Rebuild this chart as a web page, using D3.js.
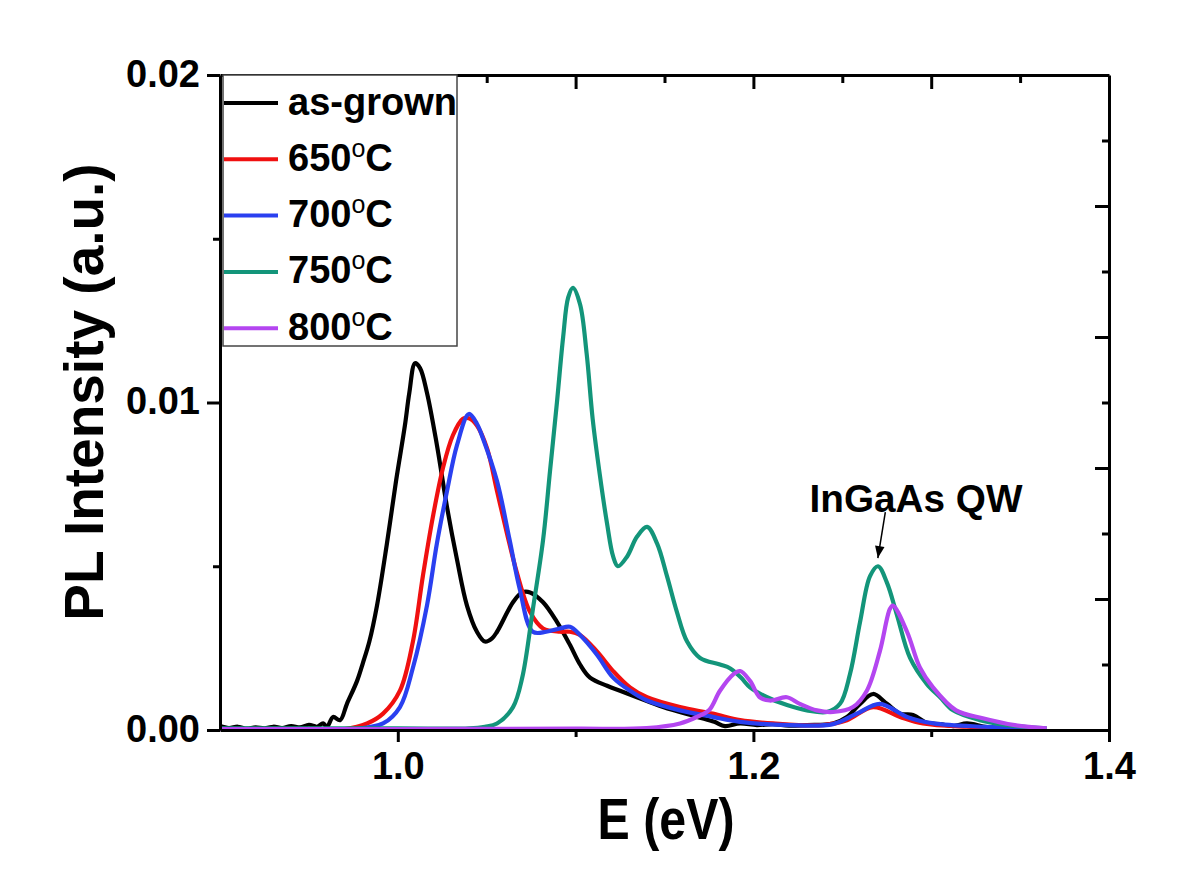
<!DOCTYPE html>
<html>
<head>
<meta charset="utf-8">
<script src="https://cdn.jsdelivr.net/npm/d3@7"></script>
<style>
html,body{margin:0;padding:0;background:#fff;}
svg{display:block;font-family:Arial,"Liberation Sans",sans-serif;}
</style>
</head>
<body>
<svg id="chart" width="1200" height="881"></svg>
<script>
// ---------- data (E in eV, PL intensity in a.u.) ----------
const seriesNames = ["as-grown", "650", "700", "750", "800"];
const seriesColors = ["#000000", "#f01010", "#2a40f0", "#13957a", "#b446f0"];

const asGrown = [
  [0.900,0.00012],[0.905,0.00006],[0.910,0.00010],[0.915,0.00004],[0.920,0.00008],[0.925,0.00005],
  [0.930,0.00010],[0.935,0.00006],[0.940,0.00012],[0.945,0.00008],[0.950,0.00016],[0.9546,0.00010],
  [0.958,0.00020],[0.9602,0.00010],[0.9636,0.00040],[0.9675,0.00030],[0.9714,0.00080],[0.9771,0.00150],
  [0.9804,0.00205],[0.9840,0.00270],[0.9883,0.00380],[0.9939,0.00570],[0.9990,0.00760],[1.0040,0.00930],
  [1.0065,0.01030],[1.0097,0.01120],[1.0125,0.01105],[1.0164,0.01030],[1.0220,0.00870],[1.0277,0.00680],
  [1.0333,0.00520],[1.0389,0.00380],[1.0445,0.00300],[1.0490,0.00270],[1.0530,0.00280],[1.0558,0.00300],
  [1.0648,0.00390],[1.0699,0.00420],[1.0744,0.00420],[1.0817,0.00390],[1.0895,0.00330],[1.0968,0.00260],
  [1.1025,0.00200],[1.1081,0.00160],[1.1177,0.00135],[1.1250,0.00120],[1.1345,0.00100],[1.1492,0.00070],
  [1.1683,0.00040],[1.1780,0.00025],[1.1840,0.00012],[1.1925,0.00020],[1.2020,0.00015],[1.2110,0.00018],
  [1.2200,0.00013],[1.2301,0.00015],[1.2448,0.00020],[1.2526,0.00040],[1.2600,0.00080],[1.2673,0.00110],
  [1.2751,0.00080],[1.2825,0.00050],[1.2898,0.00046],[1.2976,0.00022],[1.3050,0.00018],[1.3125,0.00012],
  [1.3201,0.00020],[1.3314,0.00009],[1.3450,0.00006],[1.3640,0.00005]
];

const anneal650 = [
  [0.950,0.00001],[0.970,0.00003],[0.9827,0.00020],[0.9917,0.00050],[1.0012,0.00120],[1.0085,0.00270],
  [1.0141,0.00470],[1.0197,0.00650],[1.0254,0.00800],[1.0310,0.00900],[1.0366,0.00950],[1.0400,0.00952],
  [1.0445,0.00930],[1.0502,0.00860],[1.0558,0.00730],[1.0614,0.00600],[1.0670,0.00480],[1.0744,0.00360],
  [1.0817,0.00310],[1.0912,0.00300],[1.0968,0.00300],[1.1025,0.00290],[1.1120,0.00240],[1.1211,0.00180],
  [1.1306,0.00130],[1.1402,0.00100],[1.1587,0.00070],[1.1772,0.00050],[1.1925,0.00030],[1.2110,0.00020],
  [1.2391,0.00015],[1.2526,0.00030],[1.2673,0.00070],[1.2825,0.00040],[1.2954,0.00020],[1.3200,0.00010],
  [1.3640,0.00005]
];

const anneal700 = [
  [0.950,0.00001],[0.975,0.00003],[0.9917,0.00020],[1.0012,0.00070],[1.0085,0.00190],[1.0164,0.00380],
  [1.0220,0.00570],[1.0277,0.00730],[1.0333,0.00870],[1.0400,0.00965],[1.0445,0.00935],[1.0479,0.00890],
  [1.0558,0.00760],[1.0629,0.00580],[1.0686,0.00430],[1.0759,0.00300],[1.0835,0.00300],[1.0912,0.00310],
  [1.0968,0.00315],[1.1025,0.00290],[1.1120,0.00230],[1.1211,0.00160],[1.1306,0.00120],[1.1402,0.00090],
  [1.1587,0.00060],[1.1772,0.00040],[1.1925,0.00025],[1.2200,0.00015],[1.2448,0.00018],[1.2582,0.00050],
  [1.2711,0.00080],[1.2864,0.00040],[1.3014,0.00020],[1.3300,0.00010],[1.3640,0.00005]
];

const anneal750 = [
  [0.900,0.00005],[1.000,0.00005],[1.0400,0.00005],[1.0490,0.00010],[1.0558,0.00020],[1.0648,0.00070],
  [1.0700,0.00160],[1.0760,0.00370],[1.0817,0.00580],[1.0856,0.00790],[1.0895,0.01000],[1.0930,0.01200],
  [1.0958,0.01320],[1.0985,0.01350],[1.1025,0.01300],[1.1062,0.01150],[1.1096,0.00950],[1.1136,0.00780],
  [1.1177,0.00630],[1.1211,0.00530],[1.1238,0.00500],[1.1290,0.00530],[1.1345,0.00590],[1.1402,0.00620],
  [1.1458,0.00570],[1.1514,0.00470],[1.1570,0.00360],[1.1627,0.00270],[1.1700,0.00220],[1.1812,0.00200],
  [1.1870,0.00188],[1.1930,0.00160],[1.1981,0.00130],[1.2077,0.00100],[1.2189,0.00076],[1.2301,0.00060],
  [1.2414,0.00055],[1.2487,0.00080],[1.2543,0.00170],[1.2600,0.00330],[1.2656,0.00470],[1.2701,0.00500],
  [1.2751,0.00450],[1.2808,0.00350],[1.2881,0.00220],[1.2976,0.00140],[1.3050,0.00100],[1.3123,0.00060],
  [1.3274,0.00030],[1.3426,0.00015],[1.3650,0.00005]
];

const anneal800 = [
  [0.900,0.00003],[1.000,0.00003],[1.100,0.00004],[1.1400,0.00006],[1.1587,0.00020],[1.1683,0.00040],
  [1.1750,0.00060],[1.1812,0.00120],[1.1887,0.00170],[1.1925,0.00180],[1.1981,0.00150],[1.2036,0.00100],
  [1.2092,0.00090],[1.2188,0.00100],[1.2261,0.00080],[1.2357,0.00060],[1.2448,0.00055],[1.2560,0.00070],
  [1.2638,0.00120],[1.2711,0.00240],[1.2768,0.00370],[1.2785,0.00380],[1.2864,0.00300],[1.2937,0.00190],
  [1.3010,0.00130],[1.3140,0.00060],[1.3290,0.00036],[1.3470,0.00015],[1.3650,0.00005]
];

const allSeries = [asGrown, anneal650, anneal700, anneal750, anneal800];

const yTickLabels = [0.00, 0.01, 0.02];
const yMinorTicks = [0.005, 0.015];
const xTickLabels = [1.0, 1.2, 1.4];
const xMinorTicks = [1.1, 1.3];
const topTicks = [0.95, 1.0, 1.05, 1.1, 1.15, 1.2, 1.25, 1.3, 1.35];
const rightTicks = [0.002, 0.004, 0.006, 0.008, 0.010, 0.012, 0.014, 0.016, 0.018];

// ---------- layout ----------
const svg = d3.select("#chart");
const L = 220, R = 1109, T = 75, B = 730;
const x = d3.scaleLinear().domain([0.9, 1.4]).range([L, R]);
const y = d3.scaleLinear().domain([0, 0.02]).range([B, T]);

// curves
const line = d3.line().x(d => x(d[0])).y(d => y(d[1])).curve(d3.curveCatmullRom.alpha(0.5));
const plot = svg.append("g");
allSeries.forEach((s, i) => {
  plot.append("path").datum(s)
    .attr("d", line)
    .attr("fill", "none")
    .attr("stroke", seriesColors[i])
    .attr("stroke-width", 4.2)
    .attr("stroke-linejoin", "round");
});

// axes
function styleAxis(g) {
  g.select(".domain").attr("stroke", "#000").attr("stroke-width", 3);
  g.selectAll(".tick line").attr("stroke", "#000").attr("stroke-width", 3);
  g.selectAll("text").attr("font-size", 38).attr("font-weight", "bold")
    .attr("font-family", "Arial, 'Liberation Sans', sans-serif").attr("fill", "#000");
}

// bottom
svg.append("g").attr("transform", `translate(0,${B})`)
  .call(d3.axisBottom(x).tickValues(xTickLabels).tickSize(12).tickSizeOuter(0).tickPadding(10).tickFormat(d3.format(".1f")))
  .call(styleAxis)
  .call(g => g.selectAll("text").attr("dy", "0.72em"));
svg.append("g").attr("transform", `translate(0,${B})`)
  .call(d3.axisBottom(x).tickValues(xMinorTicks).tickSize(7).tickSizeOuter(0).tickFormat(""))
  .call(styleAxis).call(g => g.select(".domain").remove());

// top
svg.append("g").attr("transform", `translate(0,${T})`)
  .call(d3.axisBottom(x).tickValues(topTicks).tickSize(0).tickSizeOuter(0).tickFormat(""))
  .call(styleAxis)
  .call(g => g.selectAll(".tick line").attr("y2", d => (Math.abs(d * 10 - Math.round(d * 10)) < 1e-6 ? 14 : 8)));

// left
svg.append("g").attr("transform", `translate(${L},0)`)
  .call(d3.axisLeft(y).tickValues(yTickLabels).tickSize(13).tickSizeOuter(0).tickPadding(7).tickFormat(d3.format(".2f")))
  .call(styleAxis)
  .call(g => g.selectAll("text").attr("dy", "0.3em"));
svg.append("g").attr("transform", `translate(${L},0)`)
  .call(d3.axisLeft(y).tickValues(yMinorTicks).tickSize(7).tickSizeOuter(0).tickFormat(""))
  .call(styleAxis).call(g => g.select(".domain").remove());

// right
svg.append("g").attr("transform", `translate(${R},0)`)
  .call(d3.axisRight(y).tickValues(rightTicks).tickSize(0).tickSizeOuter(0).tickFormat(""))
  .call(styleAxis)
  .call(g => g.selectAll(".tick line").attr("x2", d => (Math.round(d * 1000) % 4 === 0 ? -14 : -7)));

// axis titles
svg.append("text")
  .attr("x", 666).attr("y", 839).attr("text-anchor", "middle")
  .attr("font-size", 58).attr("font-weight", "bold")
  .attr("textLength", 137).attr("lengthAdjust", "spacingAndGlyphs")
  .text("E (eV)");
svg.append("text")
  .attr("transform", "translate(103,392) rotate(-90)")
  .attr("text-anchor", "middle")
  .attr("font-size", 55).attr("font-weight", "bold")
  .text("PL Intensity (a.u.)");

// legend
const legend = svg.append("g");
legend.append("rect")
  .attr("x", 223).attr("y", 75).attr("width", 234).attr("height", 271)
  .attr("fill", "#fff").attr("stroke", "#444").attr("stroke-width", 1.5);
seriesNames.forEach((name, i) => {
  const ly = 103 + i * 56.3;
  legend.append("line").attr("x1", 224).attr("x2", 278).attr("y1", ly).attr("y2", ly)
    .attr("stroke", seriesColors[i]).attr("stroke-width", 4);
  const t = legend.append("text").attr("x", 288).attr("y", ly + 11.5)
    .attr("font-size", 38).attr("font-weight", "bold");
  if (i === 0) {
    t.text(name);
  } else {
    t.append("tspan").text(name);
    t.append("tspan").attr("font-size", 25).attr("font-weight", "normal").attr("dy", -14).text("o");
    t.append("tspan").attr("dy", 14).text("C");
  }
});

// annotation
svg.append("text")
  .attr("x", 916).attr("y", 512).attr("text-anchor", "middle")
  .attr("font-size", 38).attr("font-weight", "bold")
  .attr("textLength", 213).attr("lengthAdjust", "spacingAndGlyphs")
  .text("InGaAs QW");
svg.append("defs").append("marker")
  .attr("id", "arrow").attr("viewBox", "0 0 10 10").attr("refX", 10).attr("refY", 5)
  .attr("markerWidth", 14).attr("markerHeight", 12).attr("markerUnits", "userSpaceOnUse").attr("orient", "auto")
  .append("path").attr("d", "M0,1 L10,5 L0,9 Z").attr("fill", "#000");
svg.append("line")
  .attr("x1", x(1.2742)).attr("y1", y(0.00665)).attr("x2", x(1.2700)).attr("y2", y(0.00525))
  .attr("stroke", "#000").attr("stroke-width", 1.5).attr("marker-end", "url(#arrow)");
</script>
</body>
</html>
